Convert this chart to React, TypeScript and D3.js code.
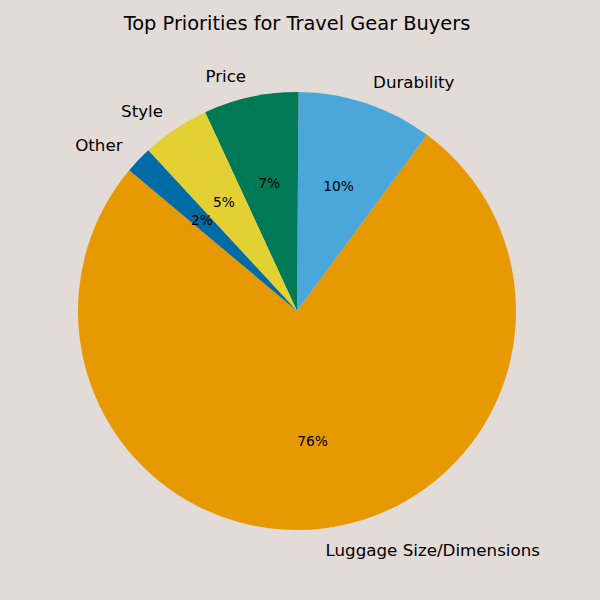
import React from 'react';
import { arc, pie } from 'd3';

const width = 600;
const height = 600;
const centerX = 297;
const centerY = 311;
const radius = 219;

const categories = ['Luggage Size/Dimensions', 'Durability', 'Price', 'Style', 'Other'];
const shares = [76, 10, 7, 5, 2];
const colors = ['#E69900', '#4BA6D9', '#007A55', '#E3D033', '#006BA4'];

const toRad = (deg: number) => (deg * Math.PI) / 180;

// matplotlib style: start at 140deg, counter-clockwise
const slicePie = pie<number>()
  .sort(null)
  .value((d) => d)
  .startAngle(toRad(90 - 140))
  .endAngle(toRad(90 - 140 - 360));

const sliceArc = arc<any>().innerRadius(0).outerRadius(radius);

const font = 'DejaVu Sans, sans-serif';

const App = () => {
  const slices = slicePie(shares);
  return (
    <div style={{ position: 'absolute', left: 0, top: 0 }}>
      <svg width={width} height={height} style={{ display: 'block', background: '#E3DBD7' }}>
        <text x={297} y={30} textAnchor="middle" fontFamily={font} fontSize={19.4} fill="#000">
          Top Priorities for Travel Gear Buyers
        </text>
        <g transform={`translate(${centerX},${centerY})`}>
          {slices.map((d, i) => (
            <path key={i} d={sliceArc(d)} fill={colors[i]} />
          ))}
          {slices.map((d, i) => {
            const mid = (d.startAngle + d.endAngle) / 2;
            const lx = Math.sin(mid) * radius * 1.1;
            const ly = -Math.cos(mid) * radius * 1.1;
            const px = Math.sin(mid) * radius * 0.6;
            const py = -Math.cos(mid) * radius * 0.6;
            return (
              <g key={i}>
                <text
                  x={lx}
                  y={ly}
                  textAnchor={lx > 0 ? 'start' : 'end'}
                  dominantBaseline="central"
                  fontFamily={font}
                  fontSize={16.7}
                  fill="#000"
                >
                  {categories[i]}
                </text>
                <text
                  x={px}
                  y={py}
                  textAnchor="middle"
                  dominantBaseline="central"
                  fontFamily={font}
                  fontSize={13.8}
                  fill="#000"
                >
                  {`${shares[i]}%`}
                </text>
              </g>
            );
          })}
        </g>
      </svg>
    </div>
  );
};

export default App;
